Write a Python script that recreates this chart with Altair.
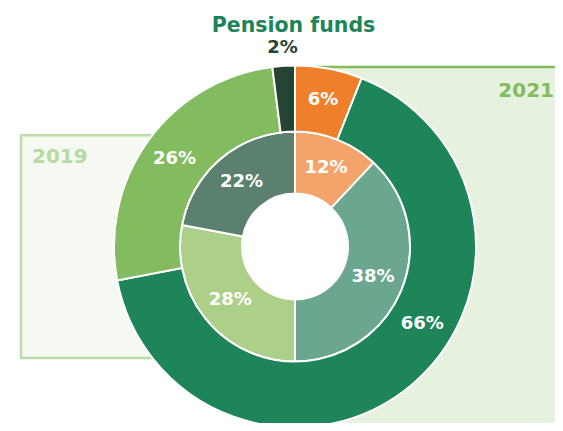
import altair as alt
import pandas as pd

# ---------------- data ----------------
title_text = "Pension funds"
years = ["2019", "2021"]
categories = ["A", "B", "C", "D"]
share_2019 = [12, 38, 28, 22]
share_2021 = [6, 66, 26, 2]

# ---------------- style ----------------
colors_2019 = ["#F4A46B", "#6BA78F", "#ACD087", "#5B806F"]
colors_2021 = ["#EF7F2B", "#1E845A", "#82BC5E", "#264433"]
FONT = "DejaVu Sans"
W, H = 547, 415
CX, CY = 287, 238.5          # donut centre (view coords)
R_OUT, R_MID, R_HOLE = 181, 115, 53

rows = []
for yr, vals in zip(years, [share_2019, share_2021]):
    for i, (c, v) in enumerate(zip(categories, vals)):
        rows.append({"year": yr, "category": c, "value": v, "idx": i, "key": f"{yr} {c}"})
df = pd.DataFrame(rows)

keys = [f"{y} {c}" for y in years for c in categories]
color_scale = alt.Scale(domain=keys, range=colors_2019 + colors_2021)

one = pd.DataFrame({"t": [""]})

box19 = alt.Chart(one).mark_rect(fill="#F5F9F1", stroke="#BCDDA8", strokeWidth=2.5).encode(
    x=alt.value(13), x2=alt.value(CX), y=alt.value(127.3), y2=alt.value(350))
box21 = alt.Chart(one).mark_rect(fill="#E6F2DF", stroke="#82BC5E", strokeWidth=2.5).encode(
    x=alt.value(CX), x2=alt.value(W + 40), y=alt.value(59), y2=alt.value(418))

hole = alt.Chart(one).mark_arc(radius=R_HOLE, theta=0, theta2=6.2832, fill="white").encode(
    x=alt.value(CX), y=alt.value(CY))

base_arc = alt.Chart(df)


def ring(year, r_outer, r_inner):
    return base_arc.transform_filter(alt.datum.year == year).mark_arc(
        radius=r_outer, radius2=r_inner, stroke="white", strokeWidth=2
    ).encode(
        theta=alt.Theta("value:Q", stack=True),
        order=alt.Order("idx:Q"),
        color=alt.Color("key:N", scale=color_scale, legend=None),
        x=alt.value(CX), y=alt.value(CY),
    )


inner = ring("2019", R_MID, R_HOLE)
outer = ring("2021", R_OUT, R_MID)

labels = alt.Chart(df).transform_window(
    cum="sum(value)", groupby=["year"], sort=[alt.SortField("idx")]
).transform_calculate(
    mid="(datum.cum - datum.value/2)/100*2*PI + ((datum.year=='2021' && datum.category=='B') ? -19*PI/180 : 0)",
    r="datum.year=='2019' ? 84 : (datum.value < 4 ? 199 : 149)",
    label="datum.value + '%'",
    tcolor="(datum.year=='2021' && datum.value < 4) ? '#264433' : 'white'",
).transform_calculate(
    lx=f"{CX} + datum.r*sin(datum.mid)",
    ly=f"{CY} - datum.r*cos(datum.mid)",
).mark_text(font=FONT, fontWeight="bold", fontSize=18, align="center", baseline="middle").encode(
    x=alt.X("lx:Q", scale=None), y=alt.Y("ly:Q", scale=None),
    text="label:N", color=alt.Color("tcolor:N", scale=None),
)

title = alt.Chart(pd.DataFrame({"t": [title_text]})).mark_text(
    font=FONT, fontWeight="bold", fontSize=20.5, color="#1E845A", align="center", baseline="alphabetic"
).encode(text="t:N", x=alt.value(285.5), y=alt.value(24))

lab19 = alt.Chart(pd.DataFrame({"t": [years[0]]})).mark_text(
    font=FONT, fontWeight="bold", fontSize=20, color="#B6DAA1", align="left", baseline="alphabetic"
).encode(text="t:N", x=alt.value(24), y=alt.value(155))
lab21 = alt.Chart(pd.DataFrame({"t": [years[1]]})).mark_text(
    font=FONT, fontWeight="bold", fontSize=20, color="#82BC5E", align="right", baseline="alphabetic"
).encode(text="t:N", x=alt.value(546), y=alt.value(89))

chart = alt.layer(box19, box21, hole, inner, outer, labels, title, lab19, lab21).properties(
    width=W, height=H, autosize=alt.AutoSizeParams(type="none"), padding=0, background="white"
).configure_view(stroke=None)

chart.save("out.html", embed_options={"renderer": "svg", "actions": False})
